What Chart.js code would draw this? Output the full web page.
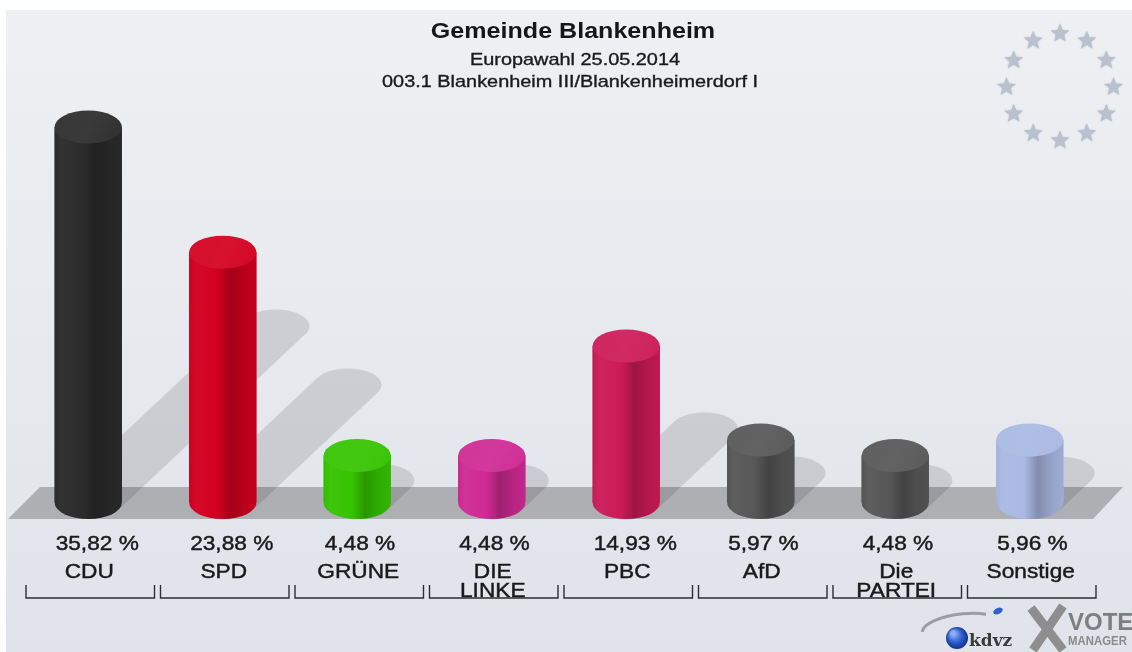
<!DOCTYPE html>
<html><head><meta charset="utf-8">
<script src="https://cdn.jsdelivr.net/npm/chart.js@4/dist/chart.umd.min.js"></script>
<style>html,body{margin:0;padding:0;background:#fff;overflow:hidden}#wrap{width:1132px;height:652px;position:relative}canvas{display:block}</style>
</head><body><div id="wrap"><canvas id="c" width="1132" height="652"></canvas></div>
<script>
// ---- data ----
const categories = [["CDU"],["SPD"],["GRÜNE"],["DIE","LINKE"],["PBC"],["AfD"],["Die","PARTEI"],["Sonstige"]];
const values = [35.82, 23.88, 4.48, 4.48, 14.93, 5.97, 4.48, 5.96];
const valueLabels = ["35,82 %","23,88 %","4,48 %","4,48 %","14,93 %","5,97 %","4,48 %","5,96 %"];
const barColors = ["#2b2b2b","#d3001f","#35c400","#cf2a93","#cc1b57","#575757","#575757","#a9b9e3"];
const titleText = "Gemeinde Blankenheim";
const subtitleLines = ["Europawahl 25.05.2014","003.1 Blankenheim III/Blankenheimerdorf I"];

// ---- helpers ----
function hexToRgb(h){h=h.replace('#','');return [parseInt(h.substr(0,2),16),parseInt(h.substr(2,2),16),parseInt(h.substr(4,2),16)];}
function shade(h,f){const c=hexToRgb(h).map(v=>Math.max(0,Math.min(255,Math.round(v*f))));return `rgb(${c[0]},${c[1]},${c[2]})`;}
function lighten(h,a){const c=hexToRgb(h).map(v=>Math.round(v+(255-v)*a));return `rgb(${c[0]},${c[1]},${c[2]})`;}
function drawText(ctx,text,x,y,font,color,sx,align,stroke){
  ctx.save();ctx.font=font;ctx.fillStyle=color;ctx.textAlign=align||'center';ctx.textBaseline='alphabetic';
  ctx.translate(x,y);ctx.scale(sx,1);ctx.fillText(text,0,0);
  if(stroke){ctx.strokeStyle=color;ctx.lineWidth=stroke;ctx.strokeText(text,0,0);}
  ctx.restore();
}
function star(ctx,cx,cy,ro,ri){
  ctx.beginPath();
  for(let i=0;i<10;i++){const r=i%2?ri:ro;const a=-Math.PI/2+i*Math.PI/5;const px=cx+r*Math.cos(a),py=cy+r*Math.sin(a);i?ctx.lineTo(px,py):ctx.moveTo(px,py);}
  ctx.closePath();ctx.fill();
}
const RY = 16.5;

// ---- plugins ----
const backgroundPlugin = {
  id:'bg',
  beforeDraw(chart){
    const ctx=chart.ctx;const W=chart.width,H=chart.height;
    ctx.save();
    ctx.fillStyle='#ffffff';ctx.fillRect(0,0,W,H);
    const g=ctx.createLinearGradient(0,10,0,H);
    g.addColorStop(0,'#eef0f3');g.addColorStop(1,'#e0e3e9');
    ctx.fillStyle=g;ctx.fillRect(6,10,W-6,H-10);
    // EU stars
    ctx.fillStyle='#b9c0ce';ctx.shadowColor='rgba(185,192,206,0.8)';ctx.shadowBlur=2;
    for(let k=0;k<12;k++){const a=-Math.PI/2+k*Math.PI/6;star(ctx,1060+53.5*Math.cos(a),87+53.5*Math.sin(a),10,4.4);}
    ctx.shadowBlur=0;ctx.shadowColor='transparent';
    // titles
    drawText(ctx,titleText,573,38,'bold 22px "Liberation Sans", Arial, sans-serif','#161616',1.14);
    drawText(ctx,subtitleLines[0],575,65,'17px "Liberation Sans", Arial, sans-serif','#1a1a1a',1.17,'center',0.35);
    drawText(ctx,subtitleLines[1],570,87,'17px "Liberation Sans", Arial, sans-serif','#1a1a1a',1.17,'center',0.35);
    ctx.restore();
  }
};

const floorPlugin = {
  id:'floor',
  beforeDatasetsDraw(chart){
    const ctx=chart.ctx;const meta=chart.getDatasetMeta(0);
    ctx.save();
    // floor band
    ctx.fillStyle='#adafb3';
    ctx.beginPath();ctx.moveTo(40,487);ctx.lineTo(1123,487);ctx.lineTo(1093,519);ctx.lineTo(8,519);ctx.closePath();ctx.fill();
    // shadows on an offscreen layer
    const off=document.createElement('canvas');off.width=chart.width;off.height=chart.height;
    const o=off.getContext('2d');o.fillStyle='#000';
    meta.data.forEach(el=>{
      const p=el.getProps(['x','y','base','width'],true);
      const rx=p.width/2,ry=RY;const h=p.base-p.y;
      const dx=0.5*h,dy=-0.47*h;
      const cx=p.x,cy=p.base;
      const t0=Math.atan2(-ry*dx,rx*dy);
      const p1=[cx+rx*Math.cos(t0),cy+ry*Math.sin(t0)],p2=[cx-rx*Math.cos(t0),cy-ry*Math.sin(t0)];
      o.beginPath();o.ellipse(cx,cy,rx,ry,0,0,Math.PI*2);o.fill();
      o.beginPath();o.ellipse(cx+dx,cy+dy,rx,ry,0,0,Math.PI*2);o.fill();
      o.beginPath();o.moveTo(p1[0],p1[1]);o.lineTo(p2[0],p2[1]);o.lineTo(p2[0]+dx,p2[1]+dy);o.lineTo(p1[0]+dx,p1[1]+dy);o.closePath();o.fill();
    });
    ctx.globalAlpha=0.11;ctx.drawImage(off,0,0);
    ctx.restore();
  }
};

const cylinderPlugin = {
  id:'cyl',
  afterDatasetsDraw(chart){
    const ctx=chart.ctx;const meta=chart.getDatasetMeta(0);
    ctx.save();
    meta.data.forEach((el,i)=>{
      const p=el.getProps(['x','y','base','width'],true);
      const c=barColors[i];const rx=p.width/2,ry=RY;
      const g=ctx.createLinearGradient(p.x-rx,0,p.x+rx,0);
      g.addColorStop(0,shade(c,0.97));g.addColorStop(0.1,lighten(c,0.04));g.addColorStop(0.42,c);
      g.addColorStop(0.62,shade(c,0.77));g.addColorStop(0.82,shade(c,0.88));g.addColorStop(1,shade(c,0.93));
      ctx.fillStyle=g;
      ctx.beginPath();ctx.moveTo(p.x-rx,p.y);ctx.lineTo(p.x-rx,p.base);
      ctx.ellipse(p.x,p.base,rx,ry,0,Math.PI,0,true);
      ctx.lineTo(p.x+rx,p.y);ctx.closePath();ctx.fill();
      const tg=ctx.createLinearGradient(p.x-rx,p.y-ry,p.x+rx,p.y+ry);
      tg.addColorStop(0,lighten(c,0.05));tg.addColorStop(0.5,lighten(c,0.07));tg.addColorStop(1,lighten(c,0.02));
      ctx.fillStyle=tg;
      ctx.beginPath();ctx.ellipse(p.x,p.y,rx,ry,0,0,Math.PI*2);ctx.fill();
    });
    ctx.restore();
  }
};

const labelPlugin = {
  id:'labels',
  afterDraw(chart){
    const ctx=chart.ctx;const xs=chart.scales.x;const meta=chart.getDatasetMeta(0);
    ctx.save();
    const step=(chart.chartArea.right-chart.chartArea.left)/categories.length;
    const font='21px "Liberation Sans", Arial, sans-serif';
    categories.forEach((lines,i)=>{
      const cx=xs.getPixelForValue(i);
      const el=meta.data[i].getProps(['x','width'],true);
      drawText(ctx,valueLabels[i],el.x-el.width/2+1,550,font,'#1a1a1a',1.08,'left',0.45);
      lines.forEach((ln,j)=>{
        drawText(ctx,ln,cx+1,578+j*19,font,'#1a1a1a',1.08,'center',0.45);
      });
      const l=cx-step/2+5,r=cx+step/2-1;
      ctx.strokeStyle='#2e2e2e';ctx.lineWidth=1.4;
      ctx.beginPath();ctx.moveTo(l,585);ctx.lineTo(l,598);ctx.lineTo(r,598);ctx.lineTo(r,585);ctx.stroke();
    });
    // logos
    ctx.strokeStyle='#9a9da3';ctx.lineWidth=3;
    ctx.beginPath();ctx.ellipse(962,628,40,14,-0.12,Math.PI*1.02,Math.PI*1.72);ctx.stroke();
    const sg=ctx.createRadialGradient(953,633,2,957,638,12);
    sg.addColorStop(0,'#8fb0f0');sg.addColorStop(0.5,'#2f5fd0');sg.addColorStop(1,'#0c2a80');
    ctx.fillStyle=sg;ctx.beginPath();ctx.arc(957,638,11,0,Math.PI*2);ctx.fill();
    ctx.fillStyle='#2f5fd0';ctx.beginPath();ctx.ellipse(998,611,5,3,-0.4,0,Math.PI*2);ctx.fill();
    drawText(ctx,'kdvz',969,646,'bold 17px "DejaVu Serif", serif','#3a3a3a',1,'left');
    ctx.strokeStyle='#8e8e8e';ctx.lineWidth=9;ctx.lineCap='butt';
    ctx.beginPath();ctx.moveTo(1031,608);ctx.lineTo(1063,650);ctx.moveTo(1063,606);ctx.lineTo(1033,650);ctx.stroke();
    drawText(ctx,'VOTE',1068,630,'bold 24px "Liberation Sans", Arial, sans-serif','#7e7e7e',1,'left');
    drawText(ctx,'MANAGER',1068,645,'bold 12px "Liberation Sans", Arial, sans-serif','#8a8a8a',0.95,'left');
    ctx.restore();
  }
};

new Chart(document.getElementById('c').getContext('2d'),{
  type:'bar',
  data:{
    labels:categories.map(c=>c.join(' ')),
    datasets:[{label:'Stimmenanteil',data:values,backgroundColor:barColors,borderWidth:0,categoryPercentage:1,barPercentage:0.5}]
  },
  options:{
    responsive:false,animation:false,devicePixelRatio:1,
    layout:{padding:{left:21,right:35,top:83.3,bottom:149.5}},
    plugins:{legend:{display:false},tooltip:{enabled:false},title:{display:false}},
    scales:{x:{display:false},y:{display:false,min:0,max:40}}
  },
  plugins:[backgroundPlugin,floorPlugin,cylinderPlugin,labelPlugin]
});
</script>
</body></html>
